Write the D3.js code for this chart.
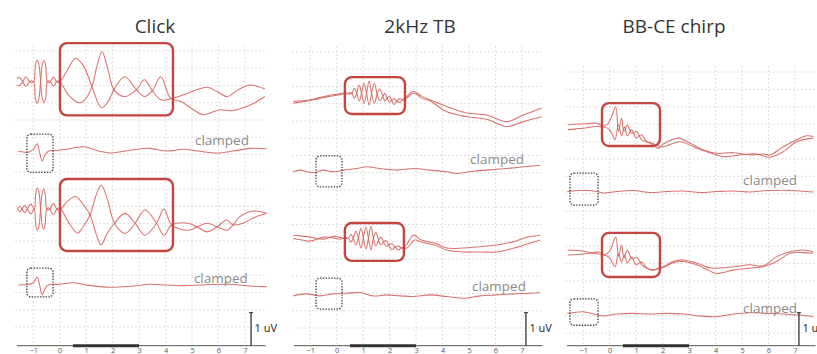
<!DOCTYPE html>
<html><head><meta charset="utf-8">
<script src="https://cdn.jsdelivr.net/npm/d3@7"></script>
<style>html,body{margin:0;padding:0;background:#fff;}svg{display:block;}</style>
</head><body>
<svg id="chart" width="817" height="354"></svg>
<script>
// ---------- DATA (time in ms, amplitude in uV relative to each trace's own baseline) ----------
const titles = ["Click", "2kHz TB", "BB-CE chirp"];
const tickValues = [-1, 0, 1, 2, 3, 4, 5, 6, 7];
const clampedLabel = "clamped";
const scaleLabel = "1 uV";

// Click
const clickA1 = [[-1.62,0.11],[-1.51,0.12],[-1.40,0],[-1.27,-0.15],[-1.14,0],[-1.06,0.03],[-0.98,0],
 [-0.915,0.52],[-0.85,0.65],[-0.785,0.52],[-0.72,0],[-0.66,-0.50],[-0.595,-0.64],[-0.53,-0.50],[-0.47,0],
 [-0.41,0.03],[-0.35,0],[-0.235,-0.14],[-0.12,0],[-0.06,0.03],[0,0],
 [0.3,0.36],[0.6,0.71],[0.92,0.45],[1.22,-0.15],[1.58,-0.79],[1.85,-0.58],[2.05,-0.24],[2.45,0.15],[2.9,-0.24],
 [3.2,-0.45],[3.5,-0.27],[3.82,0.15],[4.19,-0.50],[4.6,-0.61],[5.0,-0.82],[5.42,-1.0],[5.8,-0.91],[6.06,-0.85],
 [6.5,-0.88],[6.81,-0.82],[7.3,-0.67],[7.75,-0.45]];
const clickA2 = [[-1.62,-0.11],[-1.51,-0.12],[-1.40,0],[-1.27,0.15],[-1.14,0],[-1.06,-0.03],[-0.98,0],
 [-0.915,-0.52],[-0.85,-0.65],[-0.785,-0.52],[-0.72,0],[-0.66,0.50],[-0.595,0.64],[-0.53,0.50],[-0.47,0],
 [-0.41,-0.03],[-0.35,0],[-0.235,0.14],[-0.12,0],[-0.06,-0.03],[0,0],
 [0.35,-0.42],[0.73,-0.64],[0.95,-0.55],[1.22,-0.15],[1.4,0.45],[1.6,0.91],[1.8,0.45],[2.05,-0.24],[2.45,-0.45],
 [2.9,-0.24],[3.2,0.06],[3.5,-0.27],[3.82,-0.55],[4.19,-0.52],[4.5,-0.45],[4.81,-0.36],[5.2,-0.24],[5.57,-0.17],
 [5.95,-0.30],[6.32,-0.45],[6.75,-0.24],[7.19,-0.10],[7.5,-0.15],[7.75,-0.21]];
const clickB = [[-1.56,-0.03],[-1.19,-0.06],[-1.0,0.03],[-0.85,0.20],[-0.76,-0.06],[-0.66,-0.33],[-0.56,-0.15],
 [-0.43,-0.03],[-0.11,0],[0.26,0.03],[0.89,0.11],[1.52,-0.03],[1.9,-0.08],[2.78,0.02],[3.41,0.06],[4.04,-0.02],
 [4.67,0.03],[5.3,-0.03],[5.93,-0.08],[6.56,-0.02],[7.19,0.06],[7.82,0.05]];
const clickC1 = [[-1.60,0],[-1.51,0.08],[-1.42,0],[-1.32,-0.11],[-1.22,0],[-1.09,0.15],[-0.96,0],
 [-0.90,0.50],[-0.84,0.64],[-0.78,0.50],[-0.72,0],[-0.66,-0.48],[-0.605,-0.61],[-0.55,-0.48],[-0.49,0],
 [-0.43,0.03],[-0.37,0],[-0.24,-0.17],[-0.11,0],[-0.04,0.03],[0.03,0],
 [0.3,0.24],[0.6,0.38],[0.85,0.18],[1.15,-0.18],[1.38,-0.76],[1.57,-1.09],[1.78,-0.76],[2.07,-0.43],[2.47,-0.13],
 [2.85,-0.43],[3.22,-0.79],[3.66,-0.43],[3.94,0],[4.23,-0.48],[4.85,-0.64],[5.19,-0.54],[5.57,-0.43],[5.94,-0.54],
 [6.32,-0.64],[6.55,-0.48],[6.81,-0.23],[7.3,-0.06],[7.82,-0.13]];
const clickC2 = [[-1.60,0],[-1.51,-0.08],[-1.42,0],[-1.32,0.11],[-1.22,0],[-1.09,-0.15],[-0.96,0],
 [-0.90,-0.50],[-0.84,-0.64],[-0.78,-0.50],[-0.72,0],[-0.66,0.48],[-0.605,0.61],[-0.55,0.48],[-0.49,0],
 [-0.43,-0.03],[-0.37,0],[-0.24,0.17],[-0.11,0],[-0.04,-0.03],[0.03,0],
 [0.35,-0.42],[0.67,-0.73],[0.85,-0.58],[1.15,-0.18],[1.35,0.36],[1.57,0.73],[1.8,0.30],[2.07,-0.43],[2.47,-0.74],
 [2.85,-0.43],[3.22,-0.03],[3.66,-0.43],[3.94,-0.79],[4.23,-0.48],[4.85,-0.43],[5.19,-0.54],[5.57,-0.69],[5.94,-0.54],
 [6.32,-0.33],[6.55,-0.48],[6.92,-0.43],[7.4,-0.24],[7.82,-0.13]];
const clickD = [[-1.56,0],[-1.19,0.02],[-1.0,0.06],[-0.85,0.24],[-0.76,0],[-0.66,-0.30],[-0.56,-0.12],[-0.43,0],
 [0,0.02],[0.51,0.07],[1.02,0],[1.9,-0.07],[2.78,-0.03],[3.4,0.02],[4.04,0],[4.7,-0.02],[5.3,0],[6.3,0.02],
 [7.2,-0.03],[7.82,-0.05]];

// 2kHz tone burst
const tbE1 = [[-1.64,-0.17],[-1.3,-0.15],[-1.0,-0.12],[-0.7,-0.09],[-0.38,-0.03],[0,0.02],[0.25,0.06],[0.45,0.06],[0.57,0.08],
 [0.665,0.23],[0.76,0.08],[0.85,-0.16],[0.94,0.08],[1.035,0.38],[1.13,0.08],[1.225,-0.28],[1.32,0.08],[1.425,0.38],
 [1.53,0.05],[1.635,-0.15],[1.74,-0.01],[1.825,0.08],[1.91,-0.07],[1.995,-0.19],[2.08,-0.14],[2.175,-0.08],[2.27,-0.16],
 [2.38,-0.20],[2.49,-0.12],[2.58,-0.07],[2.89,0.13],[3.2,0],[3.52,-0.12],[4.16,-0.32],[4.91,-0.52],[5.67,-0.58],
 [6.42,-0.78],[7.05,-0.58],[7.74,-0.37]];
const tbE2 = [[-1.64,-0.22],[-1.3,-0.18],[-1.0,-0.14],[-0.7,-0.06],[-0.38,0],[0,0.05],[0.25,0.08],[0.45,0.09],[0.57,0.08],
 [0.665,-0.07],[0.76,0.08],[0.85,0.32],[0.94,0.08],[1.035,-0.22],[1.13,0.08],[1.225,0.45],[1.32,0.08],[1.425,-0.22],
 [1.53,0.05],[1.635,0.21],[1.74,-0.01],[1.825,-0.16],[1.91,-0.07],[1.995,-0.01],[2.08,-0.14],[2.175,-0.26],[2.27,-0.16],
 [2.38,-0.08],[2.49,-0.12],[2.6,-0.09],[2.92,0.09],[3.2,-0.06],[3.52,-0.15],[4.16,-0.48],[4.91,-0.63],[5.67,-0.71],
 [6.42,-0.93],[7.05,-0.78],[7.74,-0.63]];
const tbF = [[-1.64,-0.02],[-1.39,0.03],[-0.88,-0.05],[-0.51,0.03],[-0.13,-0.02],[0.25,0.03],[0.76,0.08],[1.13,0.13],
 [1.63,0.08],[2.27,0.03],[2.89,0.08],[3.53,0.03],[4.15,-0.02],[4.53,-0.07],[5.04,-0.02],[5.67,0.03],[6.42,0.08],
 [7.05,0.13],[7.69,0.18]];
const tbG1 = [[-1.64,0.09],[-1.3,0.06],[-1.0,0.03],[-0.5,-0.03],[-0.1,0.06],[0.1,0.03],[0.44,0],
 [0.535,0.12],[0.63,0],[0.725,-0.21],[0.82,0],[0.915,0.30],[1.01,0],[1.105,-0.33],[1.2,0],[1.295,0.36],[1.39,0],
 [1.485,-0.24],[1.58,-0.06],[1.675,0.03],[1.77,-0.12],[1.865,-0.25],[1.96,-0.21],[2.085,-0.17],[2.21,-0.27],
 [2.33,-0.36],[2.45,-0.30],[2.6,-0.24],[2.9,0.09],[3.2,-0.06],[3.7,-0.15],[4.15,-0.30],[4.78,-0.30],[5.41,-0.26],
 [6.04,-0.21],[6.67,-0.11],[7.2,0.03],[7.69,0.09]];
const tbG2 = [[-1.64,-0.01],[-1.3,-0.06],[-1.0,-0.09],[-0.5,0.03],[-0.1,0],[0.1,-0.03],[0.44,0],
 [0.535,-0.12],[0.63,0],[0.725,0.21],[0.82,0],[0.915,-0.30],[1.01,0],[1.105,0.33],[1.2,0],[1.295,-0.36],[1.39,0],
 [1.485,0.18],[1.58,-0.06],[1.675,-0.21],[1.77,-0.12],[1.865,-0.07],[1.96,-0.21],[2.085,-0.35],[2.21,-0.27],
 [2.33,-0.24],[2.45,-0.30],[2.65,-0.30],[2.95,-0.06],[3.2,-0.12],[3.7,-0.21],[4.15,-0.36],[4.78,-0.42],[5.41,-0.42],
 [6.04,-0.42],[6.67,-0.31],[7.2,-0.18],[7.69,-0.06]];
const tbH = [[-1.64,-0.03],[-1.13,0.03],[-0.63,-0.03],[-0.13,0.03],[0.38,0.05],[0.88,0.07],[1.38,-0.03],[1.89,0],
 [2.39,-0.03],[2.9,-0.05],[3.52,0],[4.15,-0.05],[4.78,-0.10],[5.41,-0.03],[6.04,0],[6.67,0.03],[7.3,0.05],[7.68,0.07]];

// BB-CE chirp
const chirpI1 = [[-1.58,0.03],[-1.3,0.05],[-1.0,0.06],[-0.5,0.08],[-0.25,0],[-0.1,0.03],[0.05,0.24],[0.23,0.57],
 [0.33,-0.17],[0.45,0.23],[0.54,-0.17],[0.67,0.03],[0.83,-0.22],[1.02,-0.17],[1.21,-0.42],[1.4,-0.48],[1.59,-0.55],
 [1.84,-0.68],[2.03,-0.55],[2.59,-0.37],[3.03,-0.52],[3.54,-0.73],[4.04,-0.83],[4.67,-0.81],[5.3,-0.88],[5.8,-0.85],
 [6.06,-0.88],[6.56,-0.63],[7.06,-0.42],[7.44,-0.30],[7.69,-0.32]];
const chirpI2 = [[-1.58,-0.12],[-1.3,-0.09],[-1.0,-0.07],[-0.5,-0.02],[-0.25,-0.03],[-0.1,-0.06],[0.05,-0.18],
 [0.2,-0.42],[0.33,0.03],[0.45,-0.30],[0.56,-0.03],[0.67,-0.30],[0.83,-0.12],[1.0,-0.36],[1.2,-0.27],[1.4,-0.48],
 [1.59,-0.52],[1.84,-0.61],[2.03,-0.63],[2.66,-0.48],[3.16,-0.63],[3.79,-0.81],[4.29,-0.93],[4.92,-0.88],[5.55,-0.85],
 [6.06,-0.95],[6.56,-0.78],[7.06,-0.48],[7.69,-0.37]];
const chirpJ = [[-1.6,0],[-1.0,0.04],[-0.62,0.02],[-0.24,-0.04],[0.26,0],[0.89,0.03],[1.52,-0.03],[2.15,0],[2.78,0.02],
 [3.41,-0.03],[4.04,0],[4.67,0.02],[5.3,-0.01],[5.93,0.03],[6.56,0.04],[7.19,0.02],[7.69,-0.01]];
const chirpK1 = [[-1.58,0.09],[-1.0,0.06],[-0.7,0],[-0.4,-0.03],[-0.2,-0.06],[0,0.06],[0.23,0.48],[0.33,-0.11],
 [0.45,0.24],[0.54,-0.15],[0.67,0.09],[0.83,-0.18],[1.02,-0.13],[1.21,-0.36],[1.4,-0.46],[1.65,-0.52],[1.84,-0.46],
 [2.03,-0.42],[2.4,-0.26],[2.78,-0.21],[3.29,-0.31],[3.79,-0.45],[4.04,-0.46],[4.67,-0.42],[5.3,-0.36],[5.8,-0.39],
 [6.31,-0.11],[6.81,0.04],[7.31,0.09],[7.69,0.04]];
const chirpK2 = [[-1.58,-0.06],[-1.0,-0.03],[-0.7,0],[-0.4,0.03],[-0.2,-0.06],[0,-0.15],[0.2,-0.42],[0.33,0],
 [0.45,-0.27],[0.56,-0.06],[0.67,-0.30],[0.83,-0.12],[1.0,-0.36],[1.2,-0.27],[1.4,-0.45],[1.65,-0.52],[1.84,-0.48],
 [2.03,-0.44],[2.4,-0.30],[2.78,-0.26],[3.29,-0.36],[3.79,-0.55],[4.04,-0.62],[4.67,-0.52],[5.3,-0.46],[5.8,-0.42],
 [6.31,-0.26],[6.81,-0.01],[7.31,0.01],[7.69,-0.01]];
const chirpL = [[-1.6,0],[-1.0,0.05],[-0.62,-0.02],[-0.24,-0.08],[0.26,-0.02],[0.89,0],[1.52,-0.02],[2.15,0],[2.78,-0.02],
 [3.41,-0.08],[4.04,-0.10],[4.67,-0.02],[5.3,0.02],[5.93,0],[6.56,-0.02],[7.19,-0.05],[7.69,-0.10]];

// ---------- LAYOUT ----------
const W = 817, H = 354;
const xDomain = [-1.65, 7.7];
const axisY = 345.7, uvPx = 33;
const panels = [
  { title: titles[0], range: [16, 263.5], titleT: 3.6, grid: [51, 17.25, 17],
    traces: [[clickA1, 8.0], [clickA2, 8.0], [clickB, 5.92], [clickC1, 4.14], [clickC2, 4.14], [clickD, 1.84]],
    boxes: [[0.01, 4.28, 9.17, 6.98], [0.01, 4.28, 5.05, 2.87]],
    dotted: [[-1.24, -0.25, 6.41, 5.25], [-1.24, -0.25, 2.35, 1.48]],
    labels: [[5.11, 6.08], [5.07, 1.90]], bar: 7.23 },
  { title: titles[1], range: [293, 540.5], titleT: 3.15, grid: [52, 17.25, 17],
    traces: [[tbE1, 7.57], [tbE2, 7.57], [tbF, 5.29], [tbG1, 3.26], [tbG2, 3.26], [tbH, 1.54]],
    boxes: [[0.31, 2.58, 8.14, 7.02], [0.31, 2.54, 3.72, 2.57]],
    dotted: [[-0.78, 0.2, 5.75, 4.81], [-0.78, 0.2, 2.05, 1.11]],
    labels: [[5.04, 5.52], [5.11, 1.66]], bar: 7.15 },
  { title: titles[2], range: [566, 813.5], titleT: 2.43, grid: [72, 17.4, 16],
    traces: [[chirpI1, 6.66], [chirpI2, 6.66], [chirpJ, 4.67], [chirpK1, 2.81], [chirpK2, 2.81], [chirpL, 0.98]],
    boxes: [[-0.29, 1.9, 7.35, 6.05], [-0.29, 1.9, 3.42, 2.08]],
    dotted: [[-1.5, -0.44, 5.23, 4.26], [-1.5, -0.44, 1.42, 0.62]],
    labels: [[5.04, 4.88], [5.04, 0.99]], bar: 7.15 }
];

const svg = d3.select("#chart");
svg.append("rect").attr("width", W).attr("height", H).attr("fill", "#fff");
const y = d3.scaleLinear().domain([0, 10]).range([axisY, axisY - 10 * uvPx]);
const FONT = "'Open Sans', 'DejaVu Sans', sans-serif";

panels.forEach(p => {
  const x = d3.scaleLinear().domain(xDomain).range(p.range);
  const g = svg.append("g");
  const [gx0, gx1] = p.range;
  const gy = d3.scaleLinear().domain([0, 1]).range([p.grid[0], p.grid[0] + p.grid[1]]);
  const rows = d3.range(p.grid[2]);
  // grid
  g.append("g").selectAll("line.h").data(rows).join("line")
    .attr("x1", gx0 - 1).attr("x2", gx1 + 1)
    .attr("y1", d => gy(d)).attr("y2", d => gy(d))
    .attr("stroke", "#d6d6d6").attr("stroke-width", 0.8).attr("stroke-dasharray", "2,2");
  g.append("g").selectAll("line.v").data(tickValues).join("line")
    .attr("x1", d => x(d)).attr("x2", d => x(d))
    .attr("y1", gy(0) - 6).attr("y2", axisY)
    .attr("stroke", "#d6d6d6").attr("stroke-width", 0.8).attr("stroke-dasharray", "2,2");

  // title
  g.append("text").attr("x", x(p.titleT)).attr("y", 32.5).attr("text-anchor", "middle")
    .attr("font-family", FONT).attr("font-size", 19).attr("fill", "#353535").text(p.title);

  // traces
  p.traces.forEach(([data, base]) => {
    const line = d3.line().x(d => x(d[0])).y(d => y(base + d[1])).curve(d3.curveCatmullRom.alpha(0.5));
    g.append("path").attr("d", line(data)).attr("fill", "none")
      .attr("stroke", "#d6665f").attr("stroke-width", 1.05).attr("stroke-opacity", 0.92);
  });

  // highlight boxes
  p.boxes.forEach(b => {
    g.append("rect").attr("x", x(b[0])).attr("y", y(b[2]))
      .attr("width", x(b[1]) - x(b[0])).attr("height", y(b[3]) - y(b[2]))
      .attr("rx", 7).attr("fill", "none").attr("stroke", "#c4443f").attr("stroke-width", 2.4);
  });
  p.dotted.forEach(b => {
    g.append("rect").attr("x", x(b[0])).attr("y", y(b[2]))
      .attr("width", x(b[1]) - x(b[0])).attr("height", y(b[3]) - y(b[2]))
      .attr("rx", 4).attr("fill", "none").attr("stroke", "#3c3c3c")
      .attr("stroke-width", 1.3).attr("stroke-dasharray", "1.4,1.4");
  });

  // clamped labels
  p.labels.forEach(l => {
    g.append("text").attr("x", x(l[0])).attr("y", y(l[1]))
      .attr("font-family", FONT).attr("font-size", 13.5).attr("fill", "#8a8a8a").text(clampedLabel);
  });

  // axis
  const ax = g.append("g").attr("transform", `translate(0,${axisY})`)
    .call(d3.axisBottom(x).tickValues(tickValues).tickSize(0).tickFormat(d3.format("d")));
  ax.select(".domain").attr("stroke", "#555").attr("stroke-width", 1)
    .attr("d", `M${gx0 + 1},0H${gx1 + 2}`);
  ax.selectAll("text").attr("y", 7.4).attr("dy", 0)
    .attr("font-family", FONT).attr("font-size", 7.5).attr("fill", "#555");
  // stimulus bar 0.5 - 3 ms
  g.append("line").attr("x1", x(0.5)).attr("x2", x(3)).attr("y1", axisY).attr("y2", axisY)
    .attr("stroke", "#333").attr("stroke-width", 3);

  // 1 uV scale bar
  const bx = x(p.bar);
  g.append("line").attr("x1", bx).attr("x2", bx).attr("y1", y(0)).attr("y2", y(1))
    .attr("stroke", "#222").attr("stroke-width", 1.2);
  g.append("line").attr("x1", bx - 2).attr("x2", bx + 2).attr("y1", y(1)).attr("y2", y(1))
    .attr("stroke", "#222").attr("stroke-width", 1);
  g.append("text").attr("x", bx + 3.5).attr("y", y(0.43))
    .attr("font-family", FONT).attr("font-size", 11).attr("fill", "#222").text(scaleLabel);
});
</script>
</body></html>
